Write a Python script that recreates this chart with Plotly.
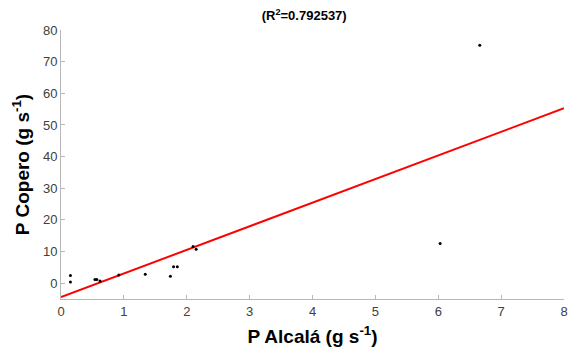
import plotly.graph_objects as go

# Data
p_alcala = [0.15, 0.15, 0.54, 0.57, 0.62, 0.92, 1.34, 1.74, 1.79, 1.85, 2.10, 2.15, 6.03, 6.66]
p_copero = [2.4, 0.4, 1.2, 1.2, 0.7, 2.6, 2.8, 2.2, 5.2, 5.2, 11.6, 10.7, 12.5, 75.2]
fit_slope = 7.46
fit_intercept = -4.4
fit_x = [0, 8]
fit_y = [fit_intercept + fit_slope * x for x in fit_x]
x_ticks = [0, 1, 2, 3, 4, 5, 6, 7, 8]
y_ticks = [0, 10, 20, 30, 40, 50, 60, 70, 80]

fig = go.Figure()
fig.add_trace(go.Scatter(x=fit_x, y=fit_y, mode="lines",
                         line=dict(color="#ff0000", width=2), showlegend=False))
fig.add_trace(go.Scatter(x=p_alcala, y=p_copero, mode="markers",
                         marker=dict(color="black", size=3), showlegend=False))

axis_common = dict(showgrid=False, zeroline=False, showline=True, linecolor="#b8b8b8",
                   linewidth=1, ticks="inside", ticklen=4, tickcolor="#b8b8b8",
                   tickfont=dict(family="Arial, Liberation Sans", size=13, color="#404040"))
fig.update_layout(
    width=574, height=354,
    margin=dict(l=61, r=6, t=30, b=55),
    plot_bgcolor="white", paper_bgcolor="white",
    title=dict(text="<b>(R<sup>2</sup>=0.792537)</b>", x=0.53, xanchor="center", y=0.955, yanchor="middle",
               font=dict(family="Arial, Liberation Sans", size=13, color="black")),
    xaxis=dict(range=[0, 8], tickvals=x_ticks,
               title=dict(text="<b>P Alcalá (g s<sup>-1</sup>)</b>", standoff=12,
                          font=dict(family="Arial, Liberation Sans", size=19, color="black")),
               **axis_common),
    yaxis=dict(range=[-5, 80], tickvals=y_ticks,
               title=dict(text="<b>P Copero (g s<sup>-1</sup>)</b>", standoff=8,
                          font=dict(family="Arial, Liberation Sans", size=19, color="black")),
               **axis_common),
)
fig.write_html("out.html")
